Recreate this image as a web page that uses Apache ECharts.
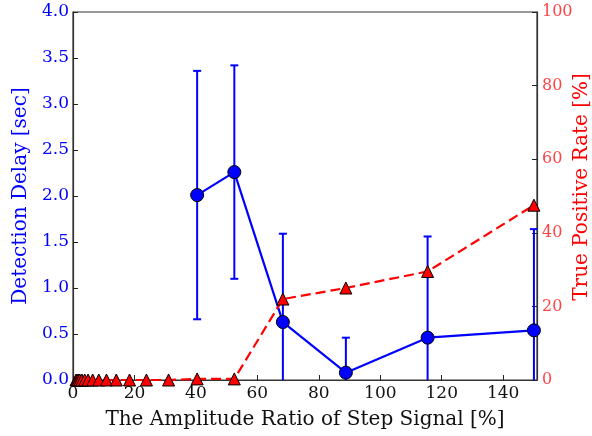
<!DOCTYPE html>
<html>
<head>
<meta charset="utf-8">
<script src="https://cdn.jsdelivr.net/npm/echarts@6/dist/echarts.min.js"></script>
<style>html,body{margin:0;padding:0;background:#fff}#c{width:592px;height:436px}</style>
</head>
<body>
<div id="c"></div>
<script>
// Detection delay (blue, left axis)
var delayX = [40.4, 52.5, 68.3, 88.8, 115.4, 150];
var delayY = [2.01, 2.26, 0.63, 0.08, 0.46, 0.54];
var delayErr = [1.35, 1.16, 0.96, 0.38, 1.10, 1.10];
// True positive rate (red, right axis)
var tprX = [1.0, 1.3, 1.7, 2.2, 2.9, 3.8, 4.9, 6.4, 8.4, 10.9, 14.1, 18.4, 23.9, 31.1, 40.4, 52.5, 68.3, 88.8, 115.4, 150];
var tprY = [0, 0, 0, 0, 0, 0, 0, 0, 0, 0, 0, 0, 0, 0, 0.3, 0.3, 22, 25, 29.5, 47.5];

var xName = 'The Amplitude Ratio of Step Signal [%]';
var yLeftName = 'Detection Delay [sec]';
var yRightName = 'True Positive Rate [%]';

var font = 'DejaVu Serif';
var chart = echarts.init(document.getElementById('c'), null, {renderer: 'canvas'});

var errData = delayX.map(function (x, i) { return [x, delayY[i] - delayErr[i], delayY[i] + delayErr[i]]; });

chart.setOption({
  animation: false,
  grid: {left: 73, right: 55, top: 12, bottom: 56, outerBoundsMode: 'none', containLabel: false,
    show: true, borderColor: '#333', borderWidth: 1.2},
  xAxis: {
    type: 'value', min: 0, max: 151, interval: 20,
    name: xName, nameLocation: 'middle', nameGap: 30, nameMoveOverlap: false,
    nameTextStyle: {color: '#111', fontFamily: font, fontSize: 20},
    axisLine: {lineStyle: {color: '#333', width: 1.2}},
    axisTick: {inside: true, length: 5, lineStyle: {color: '#222'}},
    axisLabel: {color: '#111', fontFamily: font, fontSize: 17, margin: 5, showMaxLabel: false},
    splitLine: {show: false}
  },
  yAxis: [{
    type: 'value', min: 0, max: 4, interval: 0.5, position: 'left',
    name: yLeftName, nameLocation: 'middle', nameGap: 42, nameMoveOverlap: false,
    nameTextStyle: {color: '#0000ff', fontFamily: font, fontSize: 20},
    axisLine: {show: true, lineStyle: {color: '#333', width: 1.2}},
    axisTick: {show: true, inside: true, length: 5, lineStyle: {color: '#222'}},
    axisLabel: {color: '#0000ff', fontFamily: font, fontSize: 17, margin: 4,
      formatter: function (v) { return v.toFixed(1); }},
    splitLine: {show: false}
  }, {
    type: 'value', min: 0, max: 100, interval: 20, position: 'right',
    name: yRightName, nameLocation: 'middle', nameGap: 35, nameMoveOverlap: false,
    nameTextStyle: {color: '#ff0000', fontFamily: font, fontSize: 20, padding: [0, 0, 0, 18]},
    axisLine: {show: true, lineStyle: {color: '#333', width: 1.2}},
    axisTick: {show: true, inside: true, length: 5, lineStyle: {color: '#222'}},
    axisLabel: {color: '#ff4444', fontFamily: font, fontSize: 16, margin: 5},
    splitLine: {show: false}
  }],
  series: [{
    type: 'custom', yAxisIndex: 0, clip: true, z: 2,
    data: errData,
    renderItem: function (params, api) {
      var x = api.value(0);
      var lo = api.coord([x, Math.max(api.value(1), 0)]);
      var hi = api.coord([x, api.value(2)]);
      var cap = 4;
      var children = [
        {type: 'line', shape: {x1: hi[0], y1: hi[1], x2: lo[0], y2: lo[1]}, style: {stroke: '#0000ff', lineWidth: 2}},
        {type: 'line', shape: {x1: hi[0] - cap, y1: hi[1], x2: hi[0] + cap, y2: hi[1]}, style: {stroke: '#0000ff', lineWidth: 2}}
      ];
      if (api.value(1) > 0) {
        children.push({type: 'line', shape: {x1: lo[0] - cap, y1: lo[1], x2: lo[0] + cap, y2: lo[1]}, style: {stroke: '#0000ff', lineWidth: 2}});
      }
      return {type: 'group', children: children};
    }
  }, {
    type: 'line', yAxisIndex: 0, z: 3,
    data: delayX.map(function (x, i) { return [x, delayY[i]]; }),
    lineStyle: {color: '#0000ff', width: 2.2},
    symbol: 'circle', symbolSize: 13,
    itemStyle: {color: '#0000ff', borderColor: '#000', borderWidth: 1},
    clip: false
  }, {
    type: 'line', yAxisIndex: 1, z: 4,
    data: tprX.map(function (x, i) { return [x, tprY[i]]; }),
    lineStyle: {color: '#ff0000', width: 2.2, type: [10, 5]},
    symbol: 'triangle', symbolSize: 12,
    itemStyle: {color: '#ff0000', borderColor: '#000', borderWidth: 1},
    clip: false
  }]
});
</script>
</body>
</html>
